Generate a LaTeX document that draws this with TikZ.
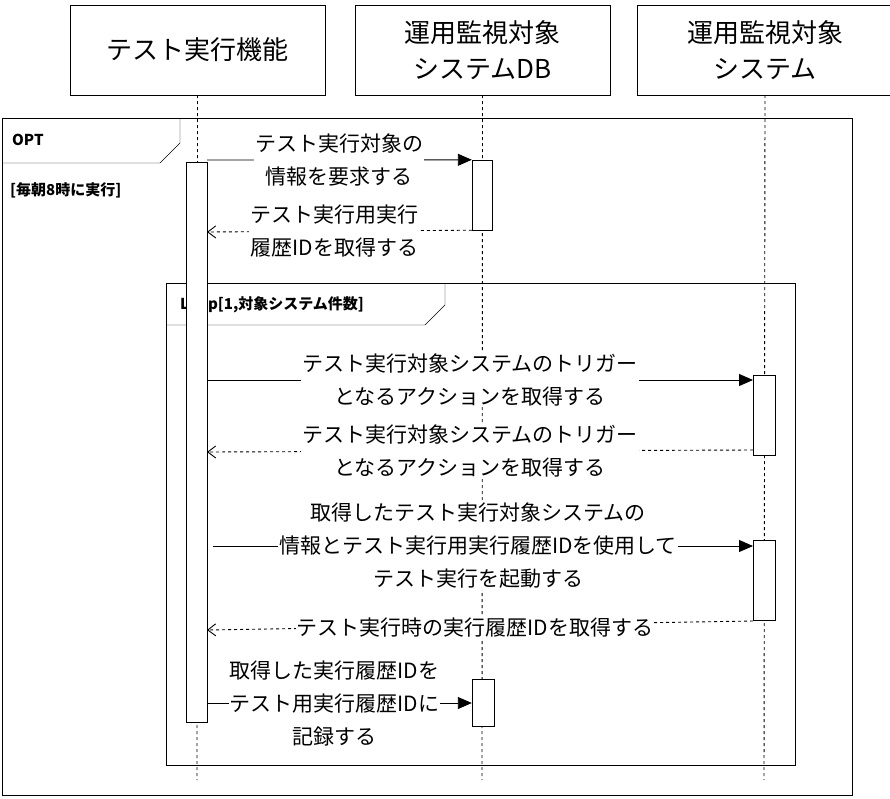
\documentclass[tikz,border=0pt]{standalone}
\usepackage{fontspec}
\setmainfont{Noto Sans CJK JP}
\usetikzlibrary{arrows.meta}
\begin{document}
\begin{tikzpicture}[x=1pt,y=-1pt,
  head/.style={draw,minimum width=255pt,minimum height=90pt,align=center,font=\fontsize{26}{36}\selectfont,inner sep=0pt},
  life/.style={dashed,line width=0.9pt},
  act/.style={draw,fill=white},
  msg/.style={-{Triangle[length=14pt,width=12pt]},line width=0.9pt},
  ret/.style={-{Straight Barb[length=8pt,width=12pt]},dashed,line width=0.9pt},
  lbl/.style={fill=white,align=center,inner sep=1pt,font=\fontsize{21}{33}\selectfont},
  flab/.style={anchor=west,font=\fontsize{15}{18}\selectfont\bfseries,inner sep=0pt}]
\useasboundingbox (0,0) rectangle (890,798);
\node[head] (h1) at (197.5,50) {テスト実行機能};
\node[head] (h2) at (482.5,50) {運用監視対象\\システムDB};
\node[head] (h3) at (765,50) {運用監視対象\\システム};
\coordinate (e1) at (197,780); \coordinate (e2) at (482,780); \coordinate (e3) at (764,780);
\draw[life] (h1.south) -- (e1);
\draw[life] (h2.south) -- (e2);
\draw[life] (h3.south) -- (e3);
% OPT frame
\draw (2,118) rectangle (852,795);
\draw (2,163) -- (160,163) -- (180,143) -- (180,118);
\node[flab] (opt) at (12,140) {OPT};
\node[flab] (guard) at (10,190) {[毎朝8時に実行]};
% loop frame
\draw (166,283) rectangle (795,765);
\draw (166,325) -- (425,325) -- (445,305) -- (445,283);
\node[flab] (loop) at (180,305) {Loop[1,対象システム件数]};
% activations
\node[act,minimum width=21pt,minimum height=560pt,inner sep=0pt] (a1) at (196.5,442) {};
\node[act,minimum width=20pt,minimum height=70pt,inner sep=0pt] (a2) at (482,195) {};
\node[act,minimum width=22pt,minimum height=80pt,inner sep=0pt] (a3) at (764,415) {};
\node[act,minimum width=22pt,minimum height=80pt,inner sep=0pt] (a4) at (764,580) {};
\node[act,minimum width=22pt,minimum height=47pt,inner sep=0pt] (a5) at (483,703) {};
% messages
\coordinate (m1s) at (207,160);
\draw[msg] (m1s) -- (a2.north west) node[lbl,midway] {テスト実行対象の\\情報を要求する};
\coordinate (m2e) at (207,232);
\draw[ret] (a2.south west) -- (m2e) node[lbl,midway,xshift=-5pt] {テスト実行用実行\\履歴IDを取得する};
\coordinate (m3s) at (207,380); \coordinate (m3e) at (753,380);
\draw[msg] (m3s) -- (m3e) node[lbl,midway,xshift=-10pt] {テスト実行対象システムのトリガー\\となるアクションを取得する};
\coordinate (m4s) at (753,450); \coordinate (m4e) at (207,452);
\draw[ret] (m4s) -- (m4e) node[lbl,midway,xshift=-10pt] {テスト実行対象システムのトリガー\\となるアクションを取得する};
\coordinate (m5s) at (213,546); \coordinate (m5e) at (753,546);
\draw[msg] (m5s) -- (m5e) node[lbl,midway,xshift=-5pt] {取得したテスト実行対象システムの\\情報とテスト実行用実行履歴IDを使用して\\テスト実行を起動する};
\coordinate (m6s) at (753,621); \coordinate (m6e) at (207,630);
\draw[ret] (m6s) -- (m6e) node[lbl,midway,xshift=-5pt,yshift=-2pt] {テスト実行時の実行履歴IDを取得する};
\coordinate (m7s) at (207,703);
\draw[msg] (m7s) -- (a5.west) node[lbl,midway,xshift=-5pt] {取得した実行履歴IDを\\テスト用実行履歴IDに\\記録する};
\end{tikzpicture}
\end{document}
